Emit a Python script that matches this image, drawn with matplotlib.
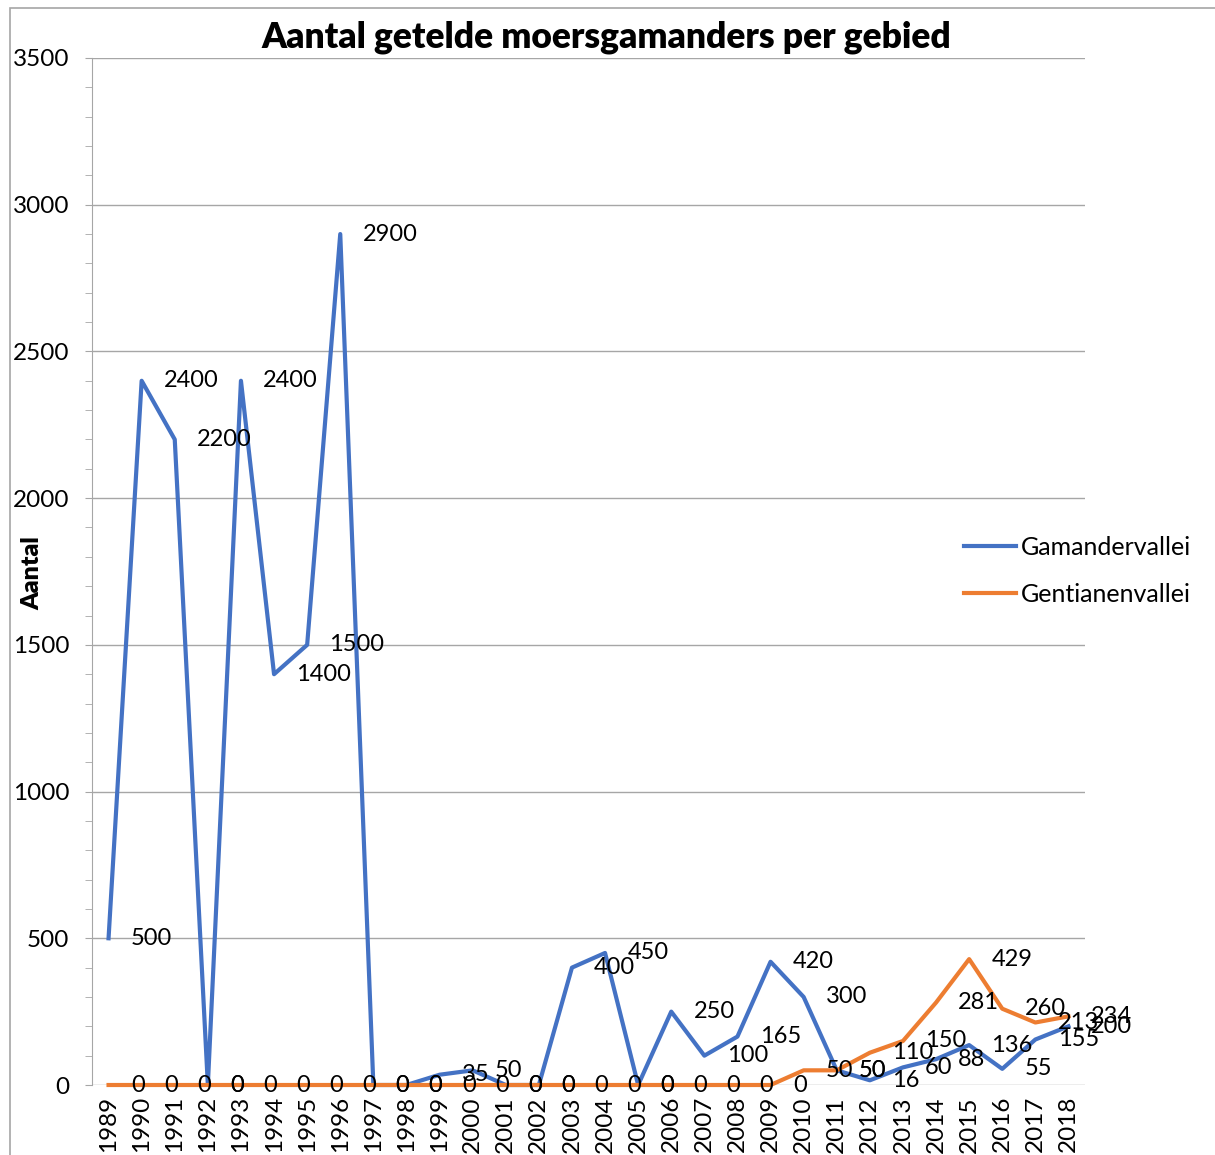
import matplotlib
matplotlib.use("Agg")
import matplotlib.pyplot as plt
from matplotlib.patches import Rectangle
from matplotlib.ticker import MultipleLocator

plt.rcParams["font.family"] = ["Lato", "DejaVu Sans"]

years = [str(y) for y in range(1989, 2019)]
gamandervallei = [500, 2400, 2200, 0, 2400, 1400, 1500, 2900, 0, 0,
                  35, 50, 0, 0, 400, 450, 0, 250, 100, 165,
                  420, 300, 50, 16, 60, 88, 136, 55, 155, 200]
gentianenvallei = [0, 0, 0, 0, 0, 0, 0, 0, 0, 0,
                   0, 0, 0, 0, 0, 0, 0, 0, 0, 0,
                   0, 50, 50, 110, 150, 281, 429, 260, 213, 234]

blue = "#4472C4"
orange = "#ED7D31"
grid = "#A6A6A6"

fig = plt.figure(figsize=(12.15, 11.55), dpi=100)
ax = fig.add_axes([92 / 1215, 1 - 1085 / 1155, (1085 - 92) / 1215, (1085 - 58) / 1155])

x = list(range(len(years)))
ax.plot(x, gamandervallei, color=blue, lw=3, label="Gamandervallei", zorder=3, clip_on=False)
ax.plot(x, gentianenvallei, color=orange, lw=3, label="Gentianenvallei", zorder=3, clip_on=False)

# data labels to the right of each point, like the spreadsheet default
for series in (gamandervallei, gentianenvallei):
    for i, v in enumerate(series):
        ax.annotate(str(v), (i, v), xytext=(16, 0), textcoords="offset points",
                    ha="left", va="center", fontsize=17, color="black", zorder=4,
                    annotation_clip=False)

ax.set_xlim(-0.5, len(years) - 0.5)
ax.set_ylim(0, 3500)
ax.set_xticks(x)
ax.set_xticklabels(years, rotation=90, fontsize=17.5)
ax.tick_params(axis="x", length=0, pad=8)
ax.yaxis.set_major_locator(MultipleLocator(500))
ax.yaxis.set_minor_locator(MultipleLocator(100))
ax.tick_params(axis="y", which="both", length=5, color=grid, labelsize=17.5, pad=11.5)
ax.grid(axis="y", which="major", color=grid, lw=1)
ax.set_axisbelow(True)
for side in ("top", "right", "bottom"):
    ax.spines[side].set_visible(False)
ax.spines["left"].set_color(grid)

ax.legend(loc="center left", bbox_to_anchor=(941 / 1215, 1 - 571 / 1155),
          bbox_transform=fig.transFigure, frameon=False, fontsize=18,
          handlelength=2.1, handletextpad=0.2, labelspacing=0.95)

fig.text(0.499, 1 - 37 / 1155, "Aantal getelde moersgamanders per gebied",
         ha="center", va="center", fontsize=25.5, fontweight="heavy")
fig.text(32 / 1215, 1 - 573 / 1155, "Aantal", rotation=90, ha="center", va="center",
         fontsize=18, fontweight="heavy")

fig.patches.append(Rectangle((10 / 1215, -0.2), 1.5, 1 - 8 / 1155 + 0.2,
                             transform=fig.transFigure, fill=False,
                             edgecolor=grid, lw=1.2))

fig.savefig("out.png", dpi=100)
